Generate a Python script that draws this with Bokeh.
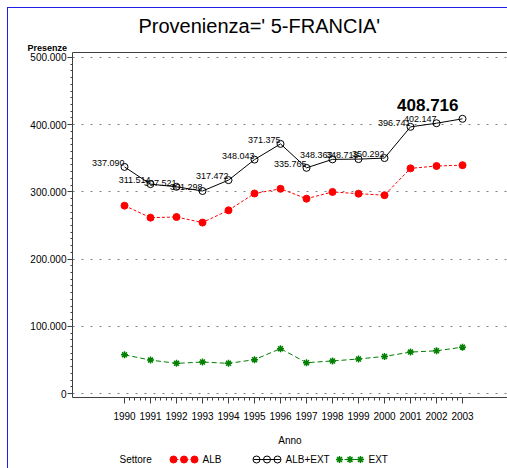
from bokeh.plotting import figure
from bokeh.models import FixedTicker, LinearAxis, Range1d, Title
from bokeh.layouts import column
from bokeh.embed import file_html
from bokeh.resources import INLINE
from bokeh.core.properties import value

# ---------------- data ----------------
years = list(range(1990, 2004))
alb = [279500, 261700, 262600, 254400, 272600, 297600, 304600,
       289900, 299900, 297300, 295100, 335000, 338500, 339700]
alb_ext = [337090, 311514, 307521, 301298, 317472, 348043, 371375,
           335765, 348363, 348718, 350292, 396741, 402147, 408716]
ext = [57600, 49800, 44900, 46900, 44900, 50400, 66800,
       45900, 48500, 51400, 55200, 61700, 63600, 69000]
y_ticks = [0, 100000, 200000, 300000, 400000, 500000]
y_tick_labels = ["0", "100.000", "200.000", "300.000", "400.000", "500.000"]
series_names = ["ALB", "ALB+EXT", "EXT"]
title_text = "Provenienza=' 5-FRANCIA'"
x_label = "Anno"
y_label = "Presenze"
legend_title = "Settore"

FONT = "Liberation Sans"
AX = "#404040"
RED = "#ff0000"
BLACK = "#000000"
GREEN = "#008000"
BLUE = "#1f1fe8"

p = figure(width=499, height=440, title=None,
           x_range=Range1d(1988, 2004.73), y_range=Range1d(-5880, 507350),
           output_backend="svg", toolbar_location=None,
           min_border_left=64, min_border_right=0,
           min_border_top=43, min_border_bottom=48)
p.outline_line_color = None
p.background_fill_color = "white"
p.border_fill_color = "white"

# x axis
xa = p.xaxis[0]
xa.ticker = FixedTicker(ticks=years,
                        minor_ticks=[y + k / 5 for y in years[:-1] for k in range(1, 5)])
xa.axis_line_color = AX
xa.major_tick_line_color = AX
xa.minor_tick_line_color = AX
xa.major_tick_in = 0
xa.major_tick_out = 6
xa.minor_tick_in = 0
xa.minor_tick_out = 3
xa.major_label_standoff = 8
xa.major_label_text_font = FONT
xa.major_label_text_font_size = "10px"
xa.major_label_text_color = "black"
xa.axis_label = x_label
xa.axis_label_text_font = FONT
xa.axis_label_text_font_size = "10px"
xa.axis_label_text_font_style = "normal"
xa.axis_label_text_color = "black"
xa.axis_label_standoff = 12

# y axis
ya = p.yaxis[0]
ya.ticker = FixedTicker(ticks=y_ticks,
                        minor_ticks=[v for v in range(0, 500001, 10000) if v % 100000])
ya.major_label_overrides = dict(zip(y_ticks, y_tick_labels))
ya.axis_line_color = AX
ya.major_tick_line_color = AX
ya.minor_tick_line_color = AX
ya.major_tick_in = 0
ya.major_tick_out = 5
ya.minor_tick_in = 0
ya.minor_tick_out = 2
ya.major_label_standoff = 1
ya.major_label_text_font = FONT
ya.major_label_text_font_size = "10px"
ya.major_label_text_color = "black"

# top frame line
top = LinearAxis(ticker=FixedTicker(ticks=[]), axis_line_color=AX,
                 major_tick_line_color=None, minor_tick_line_color=None,
                 major_tick_out=0, major_tick_in=0, minor_tick_out=0, minor_tick_in=0,
                 major_label_standoff=0)
p.add_layout(top, "above")
p.add_layout(Title(text=y_label, align="left", offset=-45, standoff=0,
                   text_font=FONT, text_font_size="9px", text_font_style="bold",
                   text_color="black"), "above")
p.add_layout(Title(text=title_text, align="left", offset=66, standoff=8,
                   text_font=FONT, text_font_size="20px", text_font_style="normal",
                   text_color="black"), "above")

p.xgrid.visible = False
p.ygrid.grid_line_color = "#808080"
p.ygrid.grid_line_dash = "2 7"
p.ygrid.grid_line_width = 1

# series
p.line(years, alb, line_color=RED, line_dash="3 2", line_width=1)
p.scatter(years, alb, marker="circle", size=7, fill_color=RED, line_color=RED)
p.line(years, alb_ext, line_color=BLACK, line_width=1)
p.scatter(years, alb_ext, marker="circle", size=7, fill_color=None,
          line_color=BLACK, line_width=1)
p.line(years, ext, line_color=GREEN, line_dash="5 3", line_width=1)
p.scatter(years, ext, marker="asterisk", size=7, line_color=GREEN, line_width=1.5)

labels = [f"{v:,}".replace(",", ".") for v in alb_ext]
p.text(years[:-1], alb_ext[:-1], text=labels[:-1], text_align="right",
       text_baseline="alphabetic", y_offset=-4, text_font=value(FONT),
       text_font_size="9px", text_color="black")
p.text(years[-1:], alb_ext[-1:], text=labels[-1:], text_align="right",
       text_baseline="alphabetic", x_offset=-4, y_offset=-14, text_font=value(FONT),
       text_font_size="17px", text_font_style="bold", text_color="black")

# legend strip (x in page pixels, frame is aligned with the main frame)
lg = figure(width=499, height=20, x_range=Range1d(72, 507), y_range=Range1d(0, 20),
            output_backend="svg", toolbar_location=None, min_border=0,
            x_axis_type=None, y_axis_type=None, title=None)
lg.outline_line_color = None
lg.grid.visible = False
lg.background_fill_color = "white"
lg.border_fill_color = "white"

ly = 9
lg.text([119], [ly], text=[legend_title], text_align="left", text_baseline="middle",
        text_font=value(FONT), text_font_size="10px", text_color="black")
bases = [170, 253, 336]
colors = [RED, BLACK, GREEN]
dashes = ["3 2", "solid", "5 3"]
for name, base, col, dash in zip(series_names, bases, colors, dashes):
    mx = [base + 3, base + 13.5, base + 24]
    lg.line([base, base + 27], [ly, ly], line_color=col, line_dash=dash, line_width=1)
    if name == "ALB":
        lg.scatter(mx, [ly] * 3, marker="circle", size=7, fill_color=col, line_color=col)
    elif name == "ALB+EXT":
        lg.scatter(mx, [ly] * 3, marker="circle", size=7, fill_color=None, line_color=col)
    else:
        lg.scatter(mx, [ly] * 3, marker="asterisk", size=7, line_color=col, line_width=1.5)
    lg.text([base + 32], [ly], text=[name], text_align="left", text_baseline="middle",
            text_font=value(FONT), text_font_size="10px", text_color="black")

layout = column(p, lg, styles={"border-left": f"1px solid {BLUE}",
                               "border-top": f"1px solid {BLUE}",
                               "margin-left": "7px", "margin-top": "7px"})

open("out.html", "w").write(file_html(layout, INLINE))
